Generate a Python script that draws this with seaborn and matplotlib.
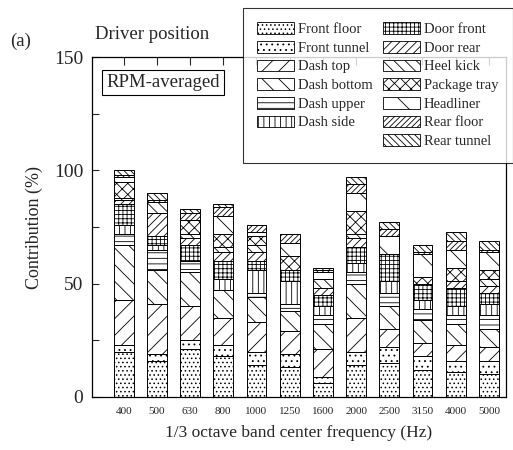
import matplotlib
matplotlib.use("Agg")
import matplotlib.pyplot as plt
from matplotlib.patches import Patch
from matplotlib.ticker import MultipleLocator
import numpy as np
import pandas as pd
import seaborn as sns

sns.set_theme(style="ticks")
plt.rcParams["font.family"] = ["Liberation Serif", "DejaVu Serif"]
plt.rcParams["hatch.linewidth"] = 0.6
plt.rcParams["hatch.color"] = "black"

# 1/3 octave band centre frequencies (Hz)
frequencies = ["400", "500", "630", "800", "1000", "1250", "1600",
               "2000", "2500", "3150", "4000", "5000"]

# Panel contributions (%) per band, bottom to top of each stack
front_floor   = [20, 16, 21, 18, 14, 13, 6, 14, 15, 12, 11, 10]
front_tunnel  = [3, 3, 4, 5, 6, 6, 3, 6, 7, 6, 5, 6]
dash_top      = [20, 22, 15, 12, 13, 10, 12, 15, 8, 6, 7, 6]
dash_bottom   = [24, 15, 15, 12, 11, 9, 11, 15, 10, 10, 9, 8]
dash_upper    = [5, 9, 5, 0, 2, 3, 4, 5, 6, 5, 4, 6]
dash_side     = [4, 2, 0, 5, 10, 10, 4, 4, 5, 4, 4, 5]
door_front    = [9, 4, 7, 8, 4, 5, 5, 7, 12, 7, 8, 5]
door_rear     = [2, 10, 3, 4, 4, 0, 3, 4, 0, 0, 3, 3]
heel_kick     = [1, 5, 2, 2, 3, 0, 4, 2, 0, 0, 0, 3]
package_tray  = [7, 0, 6, 6, 4, 6, 0, 10, 0, 3, 6, 4]
headliner     = [2, 0, 0, 8, 2, 6, 3, 8, 8, 10, 8, 8]
rear_floor    = [1, 1, 3, 4, 3, 4, 1, 4, 3, 1, 4, 1]
rear_tunnel   = [2, 3, 2, 1, 0, 0, 1, 3, 3, 3, 4, 4]

panels = ["Front floor", "Front tunnel", "Dash top", "Dash bottom",
          "Dash upper", "Dash side", "Door front", "Door rear",
          "Heel kick", "Package tray", "Headliner", "Rear floor",
          "Rear tunnel"]
series = [front_floor, front_tunnel, dash_top, dash_bottom, dash_upper,
          dash_side, door_front, door_rear, heel_kick, package_tray,
          headliner, rear_floor, rear_tunnel]
hatches = ["....", "...", "//", "\\\\", "---", "|||", "++++", "////",
           "\\\\\\", "xxx", "\\", "//////", "\\\\\\\\\\"]

fig = plt.figure(figsize=(5.13, 4.5), dpi=100)
ax = fig.add_axes([0.179, 0.118, 0.807, 0.755])

bottom = np.zeros(len(frequencies))
for name, vals, hatch in zip(panels, series, hatches):
    df = pd.DataFrame({"freq": frequencies, "value": vals})
    sns.barplot(data=df, x="freq", y="value", order=frequencies, ax=ax,
                bottom=bottom, width=0.6, color="white", edgecolor="black",
                linewidth=0.7, hatch=hatch, errorbar=None, saturation=1)
    bottom = bottom + np.array(vals, dtype=float)

ax.set_xlim(-0.96, 11.51)
ax.set_ylim(0, 150)
ax.yaxis.set_major_locator(MultipleLocator(50))
ax.yaxis.set_minor_locator(MultipleLocator(25))
ax.tick_params(axis="y", which="both", direction="in", length=5,
               width=0.8, labelsize=14, pad=6)
ax.tick_params(axis="x", direction="in", length=6, width=0.8,
               labelsize=8, top=True, pad=7)
for s in ax.spines.values():
    s.set_linewidth(0.9)
    s.set_color("black")

ax.set_xlabel("1/3 octave band center frequency (Hz)", fontsize=12.5,
              labelpad=7)
ax.set_ylabel("Contribution (%)", fontsize=13, labelpad=8)

ax.text(0.035, 0.925, "RPM-averaged", transform=ax.transAxes, fontsize=13.5,
        va="center", ha="left",
        bbox=dict(boxstyle="square,pad=0.22", fc="white", ec="black", lw=0.8))
fig.text(0.185, 0.905, "Driver position", fontsize=13.5, ha="left",
         va="bottom")
fig.text(0.02, 0.89, "(a)", fontsize=13.5, ha="left", va="bottom")

handles = [Patch(facecolor="white", edgecolor="black", hatch=h, lw=0.6)
           for h in hatches]
labels = list(panels)
# blank slot keeps the second column starting at "Door front"
handles.insert(6, Patch(visible=False))
labels.insert(6, "")
leg = fig.legend(handles, labels, ncol=2, loc="upper right",
                 bbox_to_anchor=(1.0, 0.983), fontsize=10.5,
                 frameon=True, fancybox=False, edgecolor="black",
                 handlelength=2.5, handleheight=0.85, handletextpad=0.3,
                 columnspacing=0.7, labelspacing=0.33, borderpad=1.0,
                 borderaxespad=0)
leg.get_frame().set_linewidth(0.8)

fig.savefig("out.png", dpi=100)
